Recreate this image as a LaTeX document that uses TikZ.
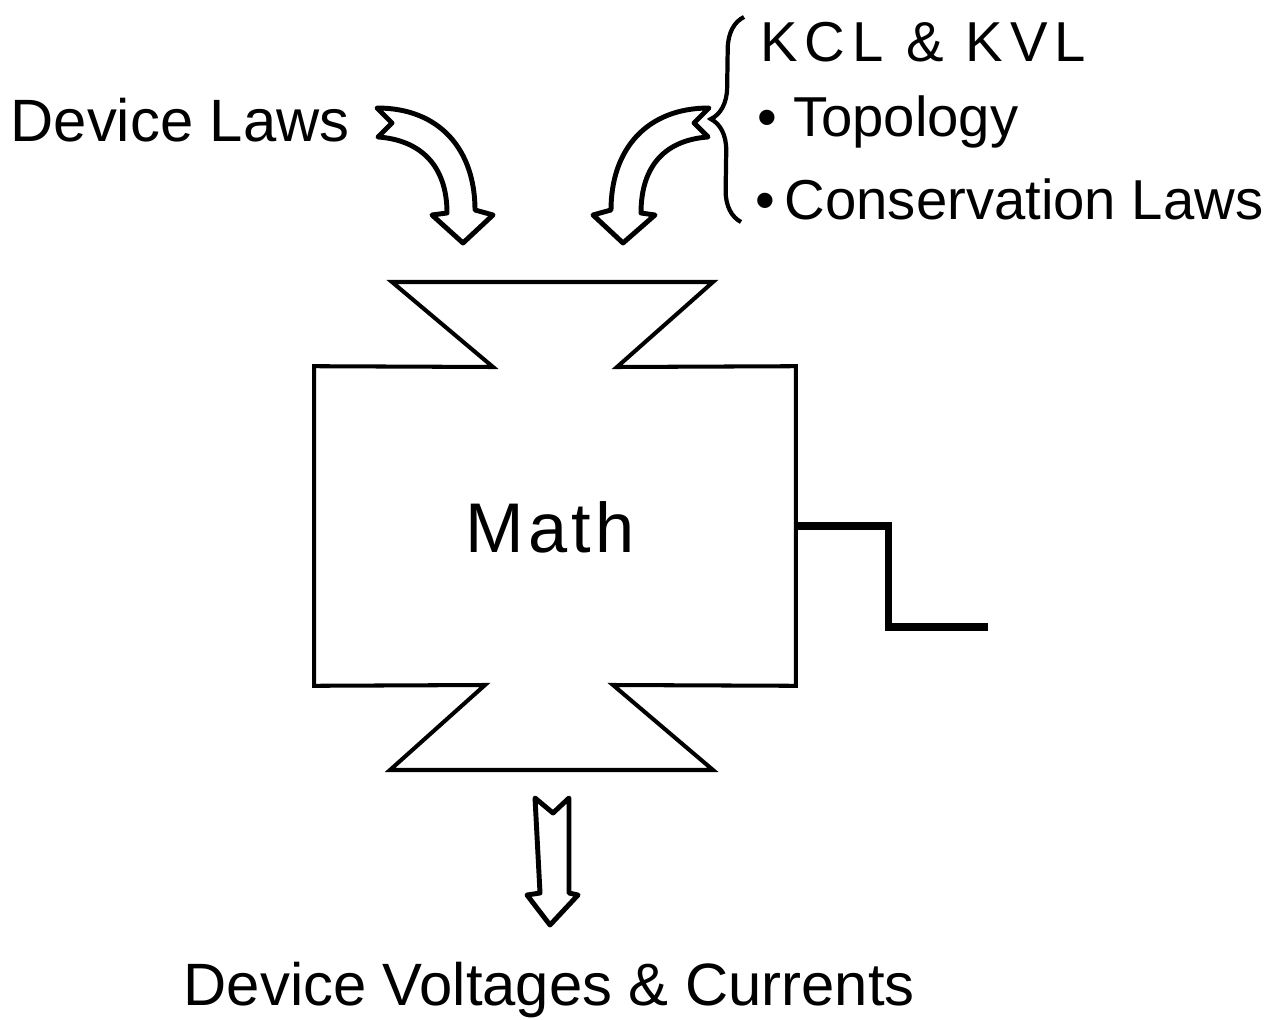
\documentclass[tikz,border=0pt]{standalone}
\usepackage{fontspec}
\setmainfont{Liberation Sans}
\usetikzlibrary{decorations.pathreplacing,calc}
\definecolor{inkdark}{HTML}{000000}
\tikzset{
  label/.style={font=\fontsize{17}{20}\selectfont, text=inkdark, inner sep=0pt, anchor=base west},
  listitem/.style={font=\fontsize{16}{19}\selectfont, text=inkdark, inner sep=0pt, anchor=base west},
  mathlabel/.style={font=\fontsize{20}{24}\selectfont\addfontfeature{LetterSpace=6}, text=inkdark, inner sep=0pt, anchor=base},
  outline/.style={draw=inkdark, line width=1.15pt, line join=miter},
  blockarrow/.style={draw=inkdark, line width=1.4pt, line join=round, fill=white},
  wire/.style={draw=inkdark, line width=2pt, line join=miter},
  groupbrace/.style={draw=inkdark, line width=1.2pt, decorate, decoration={brace, amplitude=9pt}}
}

\begin{document}
\begin{tikzpicture}[x=0.01cm, y=-0.01cm]
\useasboundingbox (0,0) rectangle (1277,1019);
% labels
\node[label] (devlaws) at (10,142) {Device Laws};
\node[listitem] (kcl) at (760,62) {\addfontfeature{LetterSpace=12}KCL \& KVL};
\node[listitem] (topo) at (757,137) {\textbullet\ Topology};
\node[listitem] (cons) at (755,220) {\textbullet\,Conservation Laws};
\draw[groupbrace] ($(cons.base west)+(-14,2)$) -- ($(kcl.base west)+(-16,-45)$);
% box with funnels
\node[minimum width=4.8cm, minimum height=3.18cm, inner sep=0pt] (mathbox) at (555,526) {};
\draw[outline] (493,367) -- (mathbox.north west) -- (mathbox.south west) -- (485,685)
  -- (390,770) -- (713,770) -- (613,685) -- (mathbox.south east) -- (mathbox.north east)
  -- (617,367) -- (713,282) -- (392,282) -- cycle;
\node[mathlabel] (mathtxt) at (550,552) {Math};
\coordinate (lead) at (988,627);
\draw[wire] (mathbox.east) -- ++(93,0) |- (lead);
% inputs
\draw[blockarrow] (377,108) -- (392,123) -- (378,137) .. controls (420,140) and (447,165) .. (447,213)
  -- (432,215) -- (463,243) -- (493,215) -- (475,210) .. controls (475,150) and (440,108) .. (377,108) -- cycle;
\draw[blockarrow] (709,108) -- (694,123) -- (708,137) .. controls (666,140) and (641,165) .. (641,213)
  -- (655,215) -- (623,243) -- (593,215) -- (611,210) .. controls (611,150) and (646,108) .. (709,108) -- cycle;
% output
\draw[blockarrow] (535,798) -- (553,813) -- (569,798) -- (569,893) -- (578,895) -- (550,925)
  -- (527,895) -- (540,893) -- cycle;
\node[label] (outtxt) at (183,1005) {Device Voltages \& Currents};
\end{tikzpicture}
\end{document}
